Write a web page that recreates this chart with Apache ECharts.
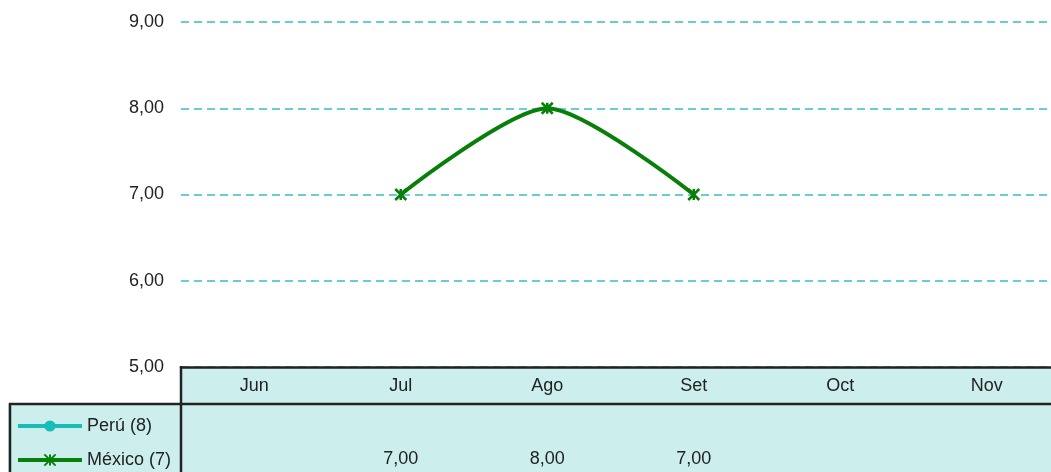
<!DOCTYPE html>
<html>
<head>
<meta charset="utf-8">
<script src="https://cdn.jsdelivr.net/npm/echarts@6/dist/echarts.min.js"></script>
<style>
  html, body { margin: 0; padding: 0; background: #fff; }
  #chart { width: 1051px; height: 472px; }
</style>
</head>
<body>
<div id="chart"></div>
<script>
// datos
var meses = ['Jun', 'Jul', 'Ago', 'Set', 'Oct', 'Nov'];
var peru = [null, null, null, null, null, null];
var mexico = [null, 7, 8, 7, null, null];
var nombres = ['Perú (8)', 'México (7)'];

var fuente = "'Liberation Sans', Arial, sans-serif";
var tam = 18;
var fondo = '#ccefee';
var borde = '#222';
var coma = function (v) { return v.toFixed(2).replace('.', ','); };

var chart = echarts.init(document.getElementById('chart'));

var option = {
    animation: false,
    textStyle: { fontFamily: fuente },
    grid: { left: 181, top: 22, width: 879, height: 345, outerBoundsMode: 'none' },
    legend: {
        orient: 'vertical',
        left: 16,
        top: 417,
        padding: 0,
        itemWidth: 64,
        itemHeight: 14,
        itemGap: 16,
        lineStyle: { width: 4 },
        textStyle: { fontFamily: fuente, fontSize: tam, color: '#222', padding: [0, 0, 0, 0] },
        data: nombres
    },
    xAxis: {
        type: 'category',
        data: meses,
        boundaryGap: true,
        axisLine: { lineStyle: { color: borde, width: 2.5 } },
        axisTick: { show: false },
        axisLabel: { fontFamily: fuente, fontSize: tam, color: '#222', margin: 10 },
        z: 10
    },
    yAxis: {
        type: 'value',
        min: 5,
        max: 9,
        interval: 1,
        axisLine: { show: false },
        axisTick: { show: false },
        axisLabel: { fontFamily: fuente, fontSize: tam, color: '#222', margin: 17, formatter: coma },
        splitLine: { lineStyle: { color: '#36bfc3', width: 1.5, type: [8, 5] } }
    },
    series: [
        {
            name: nombres[0],
            type: 'line',
            data: peru,
            symbol: 'circle',
            symbolSize: 13,
            lineStyle: { color: '#17bdb7', width: 4 },
            itemStyle: { color: '#17bdb7' }
        },
        {
            name: nombres[1],
            type: 'line',
            data: mexico,
            smooth: 0.25,
            symbol: 'path://M0,0L10,10M10,0L0,10M5,0L5,10',
            symbolSize: 11,
            lineStyle: { color: '#087f08', width: 4 },
            itemStyle: { color: '#087f08', borderColor: '#087f08', borderWidth: 2.5 },
            z: 5
        }
    ],
    graphic: [
        { type: 'rect', z: -10, shape: { x: 181, y: 367, width: 880, height: 37 }, style: { fill: fondo } },
        { type: 'rect', z: -10, shape: { x: 8, y: 404, width: 1053, height: 80 }, style: { fill: fondo } },
        { type: 'line', z: 20, shape: { x1: 181, y1: 366, x2: 181, y2: 480 }, style: { stroke: borde, lineWidth: 2.5 } },
        { type: 'line', z: 20, shape: { x1: 9, y1: 404, x2: 1060, y2: 404 }, style: { stroke: borde, lineWidth: 2.5 } },
        { type: 'line', z: 20, shape: { x1: 10, y1: 403, x2: 10, y2: 480 }, style: { stroke: borde, lineWidth: 2.5 } }
    ]
};

chart.setOption(option);

// valores de la tabla debajo de cada mes
var textos = [];
[peru, mexico].forEach(function (serie, fila) {
    serie.forEach(function (v, i) {
        if (v == null) return;
        var x = chart.convertToPixel({ xAxisIndex: 0 }, meses[i]);
        textos.push({
            type: 'text', z: 20,
            x: x, y: 426 + fila * 33,
            style: { text: coma(v), fontFamily: fuente, fontSize: tam, fill: '#222', align: 'center', verticalAlign: 'middle' }
        });
    });
});
chart.setOption({ graphic: option.graphic.concat(textos) });
</script>
</body>
</html>
